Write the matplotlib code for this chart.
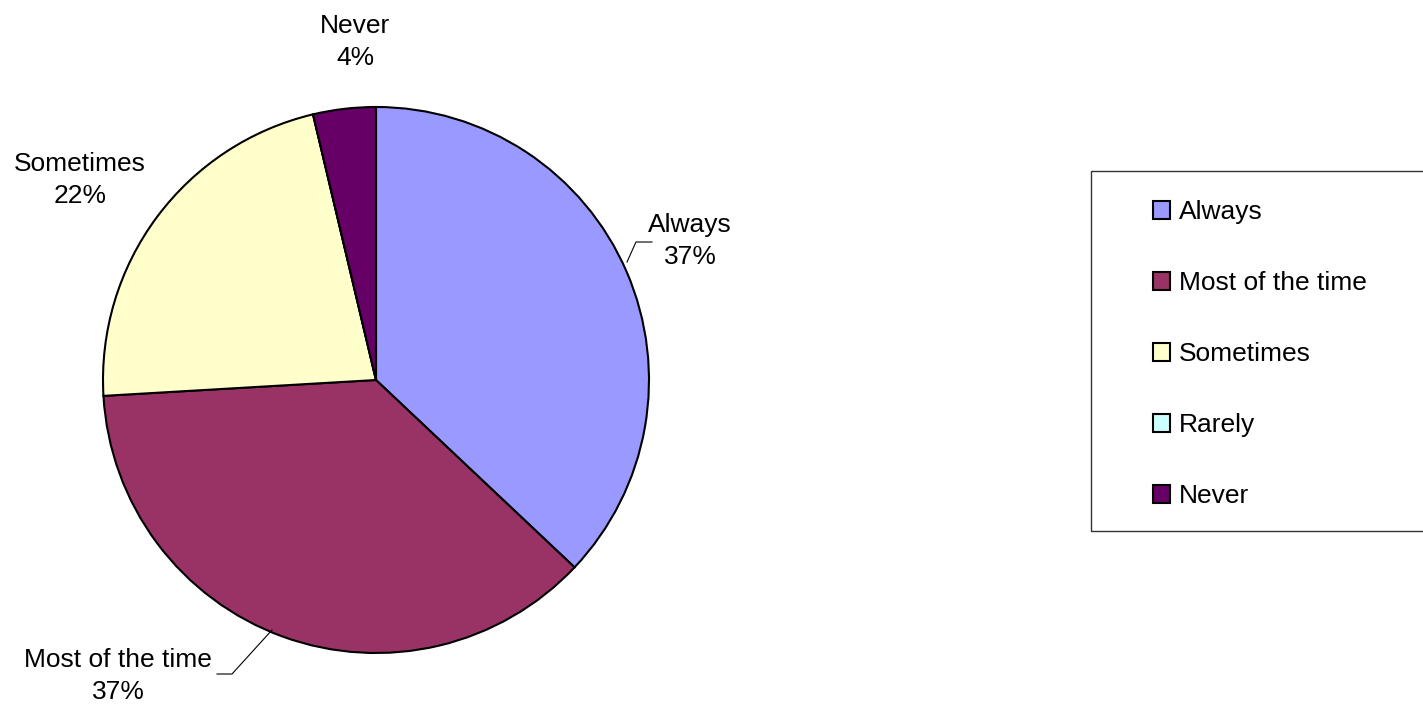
import matplotlib.pyplot as plt
from matplotlib.patches import Rectangle

plt.rcParams['font.family'] = ['Liberation Sans', 'DejaVu Sans']

categories = ['Always', 'Most of the time', 'Sometimes', 'Rarely', 'Never']
counts = [10, 10, 6, 0, 1]
colors = ['#9999FF', '#993366', '#FFFFCC', '#CCFFFF', '#660066']

W, H = 1423, 706
fig = plt.figure(figsize=(W / 100, H / 100), dpi=100)
ax = fig.add_axes([0, 0, 1, 1])

center = (376, H - 380)
radius = 273
wedges, _ = ax.pie(counts, colors=colors, startangle=90, counterclock=False,
                   center=center, radius=radius, frame=True,
                   wedgeprops=dict(edgecolor='black', linewidth=1.5))
ax.set_xlim(0, W)
ax.set_ylim(0, H)
ax.axis('off')

# label placement (pixel coords, y measured from the bottom)
label_pos = {
    'Always': (690, 465),
    'Most of the time': (118, 30),
    'Sometimes': (80, 526),
    'Never': (355, 664),
}
leaders = {
    'Always': [(627, 444), (636, 464), (652, 464)],
    'Most of the time': [(272, 76), (232, 32), (217, 32)],
}

total = sum(counts)
fs = 19
for name, v in zip(categories, counts):
    if v == 0:
        continue
    pct = round(100 * v / total)
    x, y = label_pos[name]
    ax.text(x, y, f"{name}\n{pct}%", ha='center', va='center', fontsize=fs,
            linespacing=1.38)
    if name in leaders:
        xs, ys = zip(*leaders[name])
        ax.plot(xs, ys, color='black', linewidth=0.8)

# legend frame
ax.add_patch(Rectangle((1091, H - 531), 400, 360, facecolor='none',
                       edgecolor='#333333', linewidth=1, clip_on=False))
fig.legend(wedges, categories, loc='upper left',
           bbox_to_anchor=(1140 / W, 1 - 187 / H), frameon=False,
           fontsize=fs, borderpad=0, handlelength=0.64, handleheight=0.64,
           handletextpad=0.34, labelspacing=1.78)
for h in fig.legends[0].legend_handles:
    h.set_linewidth(1.5)
    h.set_edgecolor('black')

fig.savefig('out.png', dpi=100)
